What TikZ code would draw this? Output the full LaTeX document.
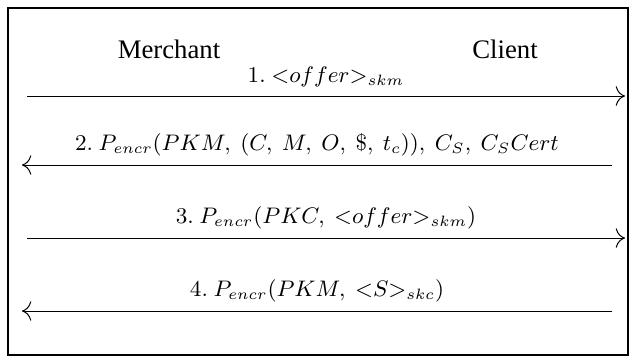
\documentclass[tikz,border=0pt]{standalone}
\usepackage[no-math]{fontspec}
\setmainfont{Liberation Serif}
\usepackage{amsmath}
\usetikzlibrary{arrows.meta,positioning}

\begin{document}
\begin{tikzpicture}[x=0.4pt,y=-0.4pt,
  party/.style={font=\fontsize{10.7}{12}\selectfont},
  msg/.style={-{To[scale=1.5]}, line width=0.4pt},
  msglabel/.style={above, font=\small}]
  \useasboundingbox (0,0) rectangle (637,362);

  % Frame
  \draw[line width=0.9pt] (8,8) rectangle (628,355);

  % Parties
  \node[party] (merchant) at (169,49) {Merchant};
  \node[party] (client) at (505,49) {Client};

  % Message 1
  \coordinate (m1a) at (27,96);
  \coordinate (m1b) at (625,96);
  \draw[msg] (m1a) -- node[msglabel] (l1) {$1.\ {<}offer{>}_{skm}$} (m1b);

  % Message 2
  \coordinate (m2a) at (612,165);
  \coordinate (m2b) at (22,165);
  \draw[msg] (m2a) -- node[msglabel] (l2) {$2.\ P_{encr}(PKM,\ (C,\ M,\ O,\ \$,\ t_c)),\ C_S,\ C_S Cert$} (m2b);

  % Message 3
  \coordinate (m3a) at (27,238);
  \coordinate (m3b) at (625,238);
  \draw[msg] (m3a) -- node[msglabel] (l3) {$3.\ P_{encr}(PKC,\ {<}offer{>}_{skm})$} (m3b);

  % Message 4
  \coordinate (m4a) at (612,311);
  \coordinate (m4b) at (22,311);
  \draw[msg] (m4a) -- node[msglabel] (l4) {$4.\ P_{encr}(PKM,\ {<}S{>}_{skc})$} (m4b);
\end{tikzpicture}
\end{document}
